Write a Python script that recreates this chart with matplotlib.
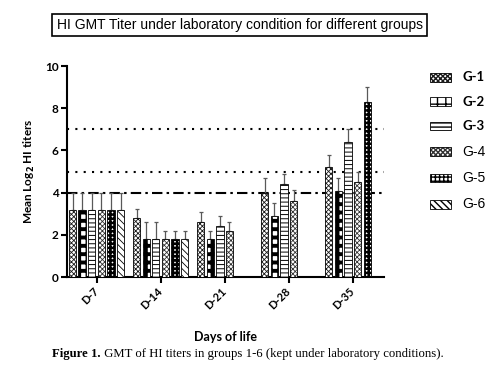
import numpy as np
import matplotlib
matplotlib.use('Agg')
import matplotlib.pyplot as plt

days = ['D-7', 'D-14', 'D-21', 'D-28', 'D-35']
groups = ['G-1', 'G-2', 'G-3', 'G-4', 'G-5', 'G-6']
nan = np.nan

g1 = [3.2, 2.8, 2.6, 4.0, 5.2]
g2 = [3.2, 1.8, 1.8, 2.9, 4.1]
g3 = [3.2, 1.8, 2.4, 4.4, 6.4]
g4 = [3.2, 1.8, 2.2, 3.6, 4.5]
g5 = [3.2, 1.8, nan, nan, 8.3]
g6 = [3.2, 1.8, nan, nan, nan]

e1 = [0.8, 0.45, 0.5, 0.7, 0.6]
e2 = [0.8, 0.8, 0.4, 0.6, 0.6]
e3 = [0.8, 0.8, 0.5, 0.5, 0.6]
e4 = [0.8, 0.4, 0.4, 0.55, 0.5]
e5 = [0.8, 0.4, nan, nan, 0.7]
e6 = [0.8, 0.4, nan, nan, nan]

ref_dashdot = 4
ref_dotted = [5, 7]

means = [g1, g2, g3, g4, g5, g6]
errs = [e1, e2, e3, e4, e5, e6]

# hatch pattern, hatch linewidth, hatch colour per group
styles = [
    ('xxxxxxx', 0.6, '0.1'),
    ('++', 2.8, 'black'),
    ('----', 0.7, 'black'),
    ('xxxxxxx', 0.6, '0.2'),
    ('++++', 1.8, 'black'),
    ('\\\\\\\\\\', 0.6, 'black'),
]
bold_labels = {'G-1', 'G-2', 'G-3'}

BOLD = 'Lato'
ARIAL = 'Liberation Sans'

fig = plt.figure(figsize=(4.97, 3.73), dpi=100)
ax = fig.add_axes([0.135, 0.257, 0.638, 0.566])

x = np.arange(len(days))
slot = 0.15
width = 0.115
handles = []
for i, (m, e) in enumerate(zip(means, errs)):
    hatch, hlw, hcol = styles[i]
    pos = x + (i - 2.5) * slot
    with plt.rc_context({'hatch.linewidth': hlw, 'hatch.color': hcol}):
        bars = ax.bar(pos, m, width=width, color='white', edgecolor='black',
                      linewidth=0.6, hatch=hatch, zorder=3)
    for b in bars:
        b._hatch_color = matplotlib.colors.to_rgba(hcol)
    handles.append(bars)
    m = np.array(m, dtype=float)
    e = np.array(e, dtype=float)
    ax.errorbar(pos, m, yerr=[np.zeros_like(e), e], fmt='none',
                ecolor='0.35', elinewidth=0.9, capsize=1.5, capthick=0.9,
                zorder=2)

ax.axhline(ref_dashdot, color='black', lw=1.5, ls=(0, (5, 2, 1.2, 2)), zorder=1)
for yv in ref_dotted:
    ax.axhline(yv, color='black', lw=1.5, ls=(0, (1, 3)), zorder=1)

ax.set_xlim(-0.46, 4.49)
ax.set_ylim(0, 10)
ax.set_yticks(range(0, 11, 2))
ax.set_xticks(x)
ax.set_xticklabels(days, rotation=45, ha='right', va='center',
                   rotation_mode='anchor', fontfamily=BOLD, fontweight='bold',
                   fontsize=8)
for lbl in ax.get_yticklabels():
    lbl.set_fontfamily(BOLD)
    lbl.set_fontweight('bold')
    lbl.set_fontsize(8.5)
for s in ['top', 'right']:
    ax.spines[s].set_visible(False)
for s in ['left', 'bottom']:
    ax.spines[s].set_linewidth(1.5)
ax.tick_params(axis='both', width=1.5, length=4, pad=2)
ax.tick_params(axis='x', pad=5)

ax.set_ylabel(r'Mean Log$_\mathbf{2}$ HI titers', fontfamily=BOLD,
              fontweight='bold', fontsize=8.5, labelpad=6)

fig.text(0.453, 0.097, 'Days of life', fontfamily=BOLD, fontweight='bold',
         fontsize=9, ha='center', va='center')

leg = fig.legend(handles, groups, loc='upper left',
                 bbox_to_anchor=(0.843, 0.837), frameon=False,
                 handlelength=1.85, handleheight=0.75, labelspacing=1.05,
                 handletextpad=0.9, prop={'family': ARIAL, 'size': 8.5})
for t in leg.get_texts():
    if t.get_text() in bold_labels:
        t.set_fontfamily(BOLD)
        t.set_fontweight('bold')
        t.set_fontsize(9.5)
    else:
        t.set_fontsize(10)

fig.text(0.482, 0.933,
         'HI GMT Titer under laboratory condition for different groups',
         fontfamily=ARIAL, fontsize=10, ha='center', va='center',
         bbox=dict(boxstyle='square,pad=0.3', facecolor='white',
                   edgecolor='black', linewidth=1.2))

cap1 = fig.text(0.105, 0.05, 'Figure 1.', fontfamily='Liberation Serif',
                fontweight='bold', fontsize=9.2, ha='left', va='center')
ax.annotate(' GMT of HI titers in groups 1-6 (kept under laboratory conditions).',
            xy=(1, 0), xycoords=cap1, ha='left', va='bottom',
            fontfamily='Liberation Serif', fontsize=9.2, annotation_clip=False)

fig.savefig('out.png', dpi=100)
